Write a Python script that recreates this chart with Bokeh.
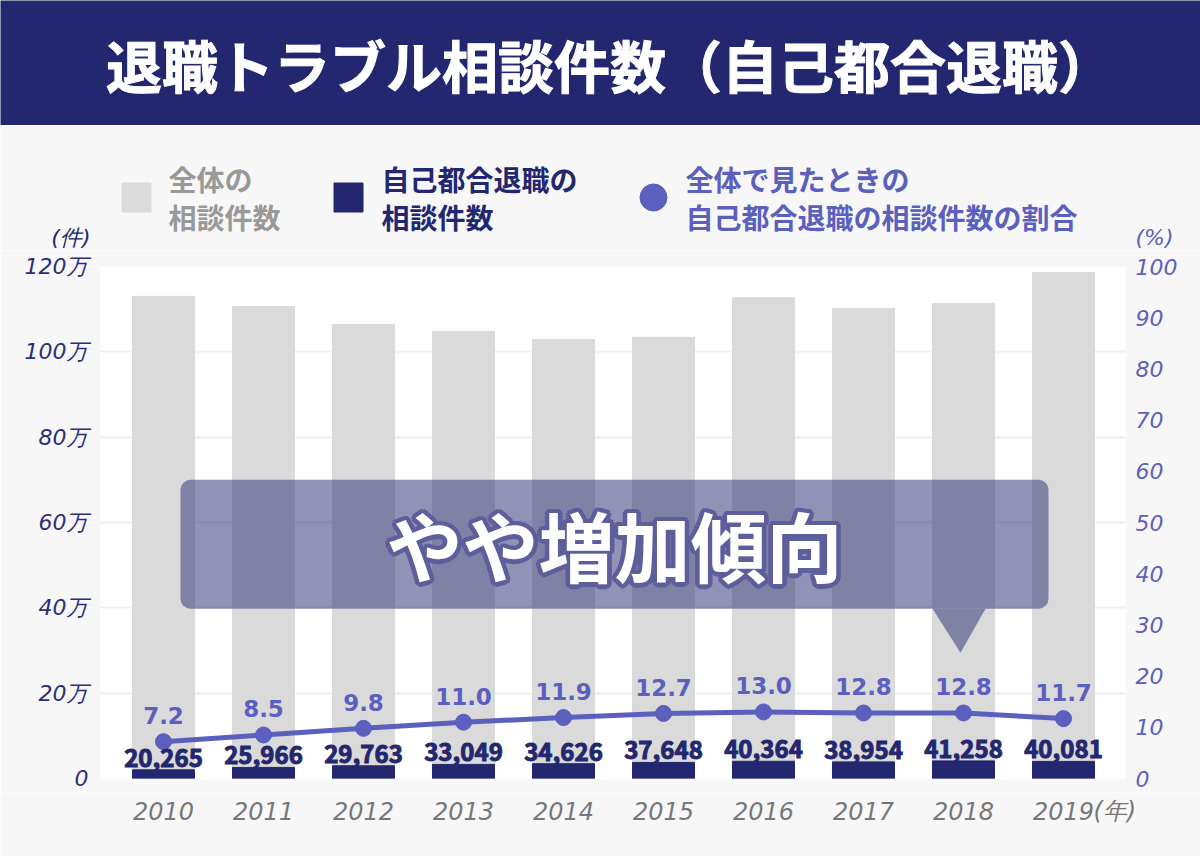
import math

from bokeh.plotting import figure
from bokeh.models import Range1d, LinearAxis, FixedTicker, Label, BoxAnnotation
from bokeh.layouts import column
from bokeh.core.properties import value
from bokeh.embed import file_html
from bokeh.resources import INLINE

# ---- data -------------------------------------------------------------
years = ["2010", "2011", "2012", "2013", "2014", "2015", "2016", "2017", "2018", "2019"]
total_consultations = [1_130_000, 1_106_000, 1_064_000, 1_048_000, 1_029_000,
                       1_034_000, 1_127_000, 1_102_000, 1_113_000, 1_186_000]
voluntary_resignation = [20265, 25966, 29763, 33049, 34626, 37648, 40364, 38954, 41258, 40081]
voluntary_share_pct = [7.2, 8.5, 9.8, 11.0, 11.9, 12.7, 13.0, 12.8, 12.8, 11.7]

left_ticks = [0, 200_000, 400_000, 600_000, 800_000, 1_000_000, 1_200_000]
left_tick_labels = ["0", "20万", "40万", "60万", "80万", "100万", "120万"]
right_ticks = [0, 10, 20, 30, 40, 50, 60, 70, 80, 90, 100]

title_text = "退職トラブル相談件数（自己都合退職）"
callout_text = "やや増加傾向"
callout_year = "2018"

# ---- styling ----------------------------------------------------------
NAVY = "#23276f"
GRAY_BAR = "#dadada"
PURPLE = "#5b5fbe"
BG = "#f7f7f7"
GRAY_TEXT = "#999999"
YEAR_TEXT = "#777777"
JP = value("Noto Sans CJK JP")
NUM = value("DejaVu Sans")

W = 1200
FRAME_LEFT, FRAME_RIGHT = 100, 75


def bare(fig):
    fig.grid.visible = False
    fig.outline_line_color = None
    return fig


# ---- title banner -----------------------------------------------------
banner = bare(figure(width=W, height=125, x_range=Range1d(0, 1), y_range=Range1d(0, 1),
                     output_backend="svg", toolbar_location=None,
                     x_axis_location=None, y_axis_location=None, frame_align=False,
                     min_border=0, background_fill_color=NAVY, border_fill_color=NAVY))
banner.text(x=[0.508], y=[0.5], text=[title_text], text_align="center", text_baseline="middle",
            text_font=JP, text_font_style="bold", text_font_size="56px", text_color="white",
            text_outline_color="white")

# ---- legend strip (coordinates are pixels within the strip) -----------
leg = bare(figure(width=W, height=125, x_range=Range1d(0, W), y_range=Range1d(125, 0),
                  output_backend="svg", toolbar_location=None,
                  x_axis_location=None, y_axis_location=None, frame_align=False,
                  min_border=0, background_fill_color=BG, border_fill_color=BG))
row1, row2, mid = 53, 91, 72
leg.scatter(x=[136], y=[mid], marker="square", size=29, color=GRAY_BAR)
leg.scatter(x=[348], y=[mid], marker="square", size=29, color=NAVY)
leg.scatter(x=[653], y=[mid], marker="circle", size=27, color=PURPLE)
legend_font = dict(text_font=JP, text_font_style="bold", text_font_size="28px",
                   text_baseline="middle", text_align="left")
leg.text(x=[168, 168], y=[row1, row2], text=["全体の", "相談件数"], text_color=GRAY_TEXT, **legend_font)
leg.text(x=[381, 381], y=[row1, row2], text=["自己都合退職の", "相談件数"], text_color=NAVY, **legend_font)
leg.text(x=[685, 685], y=[row1, row2], text=["全体で見たときの", "自己都合退職の相談件数の割合"],
         text_color=PURPLE, **legend_font)
leg.text(x=[90], y=[112], text=["(件)"], text_align="right", text_baseline="middle",
         text_font=NUM, text_font_style="italic", text_font_size="22px", text_color=NAVY)
leg.text(x=[1135], y=[112], text=["(%)"], text_align="left", text_baseline="middle",
         text_font=NUM, text_font_style="italic", text_font_size="22px", text_color=PURPLE)

# ---- main chart -------------------------------------------------------
idx = list(range(len(years)))
x_lo, x_hi = -0.63, len(years) - 0.38
p = figure(width=W, height=542, x_range=Range1d(x_lo, x_hi),
           y_range=Range1d(0, 1_200_000), output_backend="svg", toolbar_location=None,
           x_axis_location=None, frame_align=False,
           min_border_left=FRAME_LEFT, min_border_right=FRAME_RIGHT,
           min_border_top=16, min_border_bottom=14,
           background_fill_color="white", border_fill_color=BG)
p.outline_line_color = None
p.extra_y_ranges = {"pct": Range1d(0, 100)}

p.xgrid.visible = False
p.ygrid.ticker = FixedTicker(ticks=left_ticks)
p.ygrid.grid_line_color = "#eeeeee"
p.ygrid.grid_line_width = 2

p.yaxis.ticker = FixedTicker(ticks=left_ticks)
p.yaxis.major_label_overrides = dict(zip(left_ticks, left_tick_labels))

right = LinearAxis(y_range_name="pct", ticker=FixedTicker(ticks=right_ticks))
p.add_layout(right, "right")

for ax in p.axis:
    ax.axis_line_color = None
    ax.major_tick_line_color = None
    ax.minor_tick_line_color = None
    ax.major_tick_out = 0
    ax.major_tick_in = 0
    ax.major_label_text_font = "DejaVu Sans"
    ax.major_label_text_font_style = "italic"
    ax.major_label_text_font_size = "22px"

p.yaxis[0].major_label_text_color = "#2b2f77"
p.yaxis[0].major_label_standoff = 12
right.major_label_text_color = PURPLE
right.major_label_standoff = 10

# bars
p.vbar(x=idx, top=total_consultations, width=0.62, color=GRAY_BAR)
p.vbar(x=idx, top=voluntary_resignation, width=0.62, color=NAVY)

# share line
p.line(x=idx, y=voluntary_share_pct, y_range_name="pct", line_width=5, color=PURPLE)
p.scatter(x=idx, y=voluntary_share_pct, y_range_name="pct", size=16, color=PURPLE)

# value labels
p.text(x=idx, y=voluntary_share_pct, y_range_name="pct",
       text=[f"{v:.1f}" for v in voluntary_share_pct],
       y_offset=-26, text_align="center", text_baseline="middle",
       text_font=NUM, text_font_style="bold", text_font_size="23px", text_color=PURPLE)
p.text(x=idx, y=voluntary_resignation, text=[f"{v:,}" for v in voluntary_resignation],
       y_offset=-12, text_align="center", text_baseline="middle",
       text_font=JP, text_font_style="bold", text_font_size="24px", text_color=NAVY,
       text_outline_color=NAVY)

# callout box pointing at 2018
ci = years.index(callout_year)
box_fill = "#313579"
box_alpha = 0.54
p.add_layout(BoxAnnotation(left=0.17, right=8.85, bottom=398_000, top=700_000,
                           fill_color=box_fill, fill_alpha=box_alpha,
                           line_color=None, border_radius=10))
p.patch(x=[ci - 0.31, ci + 0.22, ci - 0.03], y=[398_000, 398_000, 295_000],
        fill_color=box_fill, fill_alpha=box_alpha, line_color=None)

# outlined callout text: a ring of darker copies under the white text
callout_pos = dict(x=4.51, y=549_000, text=callout_text, text_align="center",
                   text_baseline="middle", text_font="Noto Sans CJK JP",
                   text_font_style="bold", text_font_size="76px")
for k in range(16):
    a = 2 * math.pi * k / 16
    p.add_layout(Label(x_offset=4.5 * math.cos(a), y_offset=4.5 * math.sin(a),
                       text_color="#5d5f9c", **callout_pos))
p.add_layout(Label(text_color="white", **callout_pos))

# ---- year labels under the chart (same horizontal scale as the chart) --
upp = (x_hi - x_lo) / (W - FRAME_LEFT - FRAME_RIGHT)
foot = bare(figure(width=W, height=64,
                   x_range=Range1d(x_lo - FRAME_LEFT * upp, x_hi + FRAME_RIGHT * upp),
                   y_range=Range1d(64, 0), output_backend="svg", toolbar_location=None,
                   x_axis_location=None, y_axis_location=None, frame_align=False,
                   min_border=0, background_fill_color=BG, border_fill_color=BG))
foot.text(x=idx, y=[18] * len(idx), text=years, text_align="center", text_baseline="middle",
          text_font=NUM, text_font_style="italic", text_font_size="24px", text_color=YEAR_TEXT)
foot.text(x=[idx[-1]], y=[18], text=["(年)"], x_offset=30, text_align="left",
          text_baseline="middle", text_font=NUM, text_font_style="italic",
          text_font_size="24px", text_color=YEAR_TEXT)

layout = column(banner, leg, p, foot, spacing=0)
open("out.html", "w").write(file_html(layout, INLINE))
